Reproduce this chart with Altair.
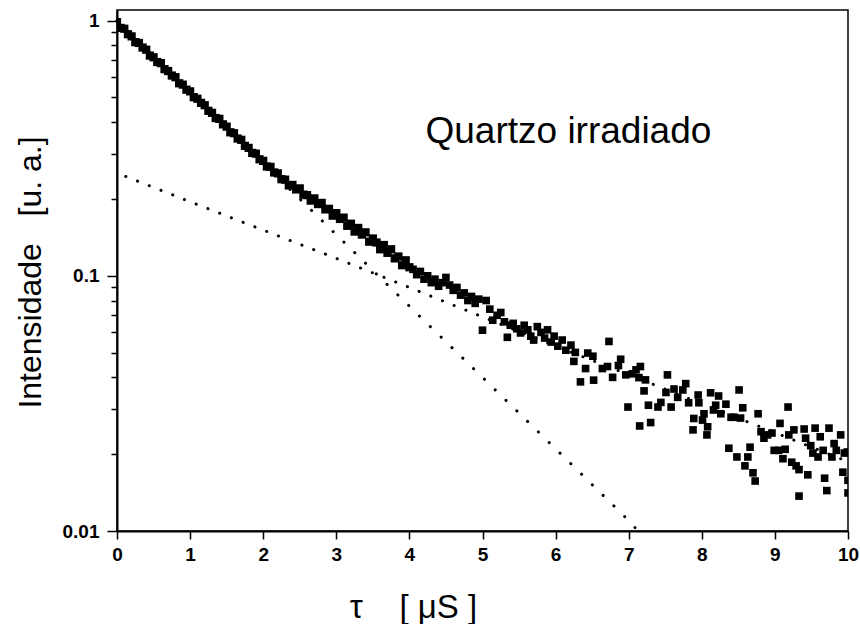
import altair as alt
import pandas as pd

# ---- measured decay (square symbols) ----
t_early = [0.00, 0.05, 0.10, 0.15, 0.20, 0.25, 0.30, 0.35, 0.40, 0.45,
           0.50, 0.55, 0.60, 0.65, 0.70, 0.75, 0.80, 0.85, 0.90, 0.95,
           1.00, 1.05, 1.10, 1.15, 1.20, 1.25, 1.30, 1.35, 1.40, 1.45,
           1.50, 1.55, 1.60, 1.65, 1.70, 1.75, 1.80, 1.85, 1.90, 1.95,
           2.00, 2.05, 2.10, 2.15, 2.20, 2.25, 2.30, 2.35, 2.40, 2.45,
           2.50, 2.55, 2.60, 2.65, 2.70, 2.75, 2.80, 2.85, 2.90, 2.95,
           3.00, 3.05, 3.10, 3.15, 3.20, 3.25, 3.30, 3.35, 3.40, 3.45,
           3.50, 3.55, 3.60, 3.65, 3.70, 3.75, 3.80, 3.85, 3.90, 3.95,
           4.00]
v_early = [0.986, 0.936, 0.929, 0.884, 0.867, 0.823, 0.817, 0.784, 0.769, 0.729,
           0.718, 0.688, 0.681, 0.645, 0.634, 0.609, 0.600, 0.568, 0.561, 0.536,
           0.528, 0.501, 0.494, 0.476, 0.466, 0.443, 0.435, 0.415, 0.412, 0.392,
           0.384, 0.365, 0.362, 0.345, 0.341, 0.323, 0.317, 0.303, 0.301, 0.286,
           0.282, 0.268, 0.267, 0.254, 0.252, 0.239, 0.238, 0.226, 0.227, 0.218,
           0.220, 0.208, 0.207, 0.197, 0.201, 0.191, 0.193, 0.182, 0.183, 0.172,
           0.176, 0.167, 0.169, 0.157, 0.160, 0.149, 0.154, 0.145, 0.148, 0.136,
           0.140, 0.135, 0.127, 0.132, 0.123, 0.127, 0.117, 0.119, 0.110, 0.115,
           0.108]

t_mid = [4.05, 4.10, 4.15, 4.20, 4.25, 4.30, 4.35, 4.40, 4.45, 4.50,
         4.55, 4.60, 4.65, 4.70, 4.75, 4.80, 4.85, 4.90, 4.95, 5.00,
         5.05, 5.10, 5.14, 5.20, 5.25, 5.30, 5.34, 5.38, 5.42, 5.47,
         5.52, 5.57, 5.62, 5.66, 5.70, 5.75, 5.80, 5.85, 5.89, 5.94,
         5.98, 6.03]
v_mid = [0.106, 0.101, 0.104, 0.097, 0.100, 0.094, 0.097, 0.091, 0.094, 0.0985,
         0.092, 0.0877, 0.090, 0.084, 0.0857, 0.080, 0.083, 0.078, 0.081, 0.0612,
         0.080, 0.074, 0.067, 0.070, 0.0718, 0.066, 0.0574, 0.064, 0.0651, 0.062,
         0.0597, 0.064, 0.0614, 0.058, 0.056, 0.0632, 0.060, 0.057, 0.0614, 0.055,
         0.058, 0.053]

t_late = [6.09, 6.21, 6.14, 6.27, 6.25, 6.44, 6.51, 6.73, 6.41, 6.34,
          6.52, 6.64, 6.71, 6.78, 6.86, 6.89, 6.96, 7.05, 7.10, 7.16,
          7.14, 7.23, 7.21, 6.99, 7.15, 7.30, 7.27, 7.40, 7.44, 7.53,
          7.51, 7.58, 7.62, 7.67, 7.74, 7.78, 7.82, 7.95, 7.96, 7.88,
          7.89, 8.01, 8.03, 8.08, 8.07, 8.12, 8.16, 8.19, 8.23, 8.26,
          8.33, 8.40, 8.44, 8.51, 8.56, 8.53, 8.37, 8.48, 8.59, 8.63,
          8.66, 8.70, 8.73, 8.77, 8.81, 8.85, 8.90, 8.96, 8.99, 9.05,
          9.07, 9.11, 9.14, 9.18, 9.19, 9.23, 9.26, 9.29, 9.33, 9.40,
          9.42, 9.45, 9.33, 9.49, 9.52, 9.55, 9.59, 9.62, 9.66, 9.68,
          9.71, 9.74, 9.78, 9.81, 9.84, 9.90, 9.93, 9.95, 10.0, 10.0,
          9.99]
v_late = [0.0560, 0.0535, 0.0511, 0.0501, 0.0462, 0.0498, 0.0484, 0.0553, 0.0433, 0.0384,
          0.0390, 0.0433, 0.0441, 0.0400, 0.0445, 0.0471, 0.0409, 0.0413, 0.0428, 0.0441,
          0.0399, 0.0391, 0.0354, 0.0306, 0.0258, 0.0266, 0.0311, 0.0306, 0.0319, 0.0409,
          0.0349, 0.0306, 0.0360, 0.0334, 0.0357, 0.0378, 0.0318, 0.0341, 0.0318, 0.0249,
          0.0276, 0.0272, 0.0288, 0.0256, 0.0238, 0.0348, 0.0298, 0.0311, 0.0338, 0.0288,
          0.0314, 0.0279, 0.0279, 0.0357, 0.0304, 0.0277, 0.0211, 0.0195, 0.0180, 0.0195,
          0.0213, 0.0169, 0.0157, 0.0288, 0.0245, 0.0231, 0.0238, 0.0242, 0.0207, 0.0207,
          0.0264, 0.0192, 0.0209, 0.0306, 0.0238, 0.0186, 0.0249, 0.0180, 0.0174, 0.0251,
          0.0231, 0.0166, 0.0137, 0.0216, 0.0202, 0.0253, 0.0195, 0.0234, 0.0207, 0.0161,
          0.0144, 0.0253, 0.0195, 0.0220, 0.0207, 0.0238, 0.0170, 0.0202, 0.0141, 0.0158,
          0.0204]

# ---- fitted single exponentials (dotted) ----
t_fast = [0.0, 1.0, 2.0, 3.0, 4.0, 5.0, 6.0, 7.0, 7.1]
v_fast = [1.0, 0.525, 0.276, 0.145, 0.076, 0.040, 0.021, 0.011, 0.0102]
t_slow = [0.12, 1.0, 2.0, 3.0, 4.0, 5.0, 6.0, 7.0, 8.0, 9.0, 10.0]
v_slow = [0.245, 0.195, 0.151, 0.117, 0.090, 0.069, 0.053, 0.041, 0.0315, 0.0243, 0.0187]

# ---- annotation ----
note_text = ["Quartzo irradiado"]
note_t = [4.22]
note_v = [0.365]

y_ticks = [0.01, 0.02, 0.03, 0.04, 0.05, 0.06, 0.07, 0.08, 0.09,
           0.1, 0.2, 0.3, 0.4, 0.5, 0.6, 0.7, 0.8, 0.9, 1]
x_ticks = [0, 0.5, 1, 1.5, 2, 2.5, 3, 3.5, 4, 4.5, 5, 5.5, 6, 6.5, 7, 7.5,
           8, 8.5, 9, 9.5, 10]

FONT = "Liberation Sans"
NB = "\u00a0"

early = pd.DataFrame({"t": t_early, "v": v_early})
rest = pd.DataFrame({"t": t_mid + t_late, "v": v_mid + v_late})
fast = pd.DataFrame({"t": t_fast, "v": v_fast})
slow = pd.DataFrame({"t": t_slow, "v": v_slow})
note = pd.DataFrame({"label": note_text, "t": note_t, "v": note_v})

is_major_y = "indexof([0.01,0.1,1], datum.value) >= 0"

x_enc = alt.X("t:Q",
              scale=alt.Scale(domain=[0, 10], nice=False, zero=False),
              axis=alt.Axis(values=x_ticks, grid=False,
                            title="τ" + NB * 4 + "[" + NB + "μS" + NB + "]",
                            titleFont=FONT, titleFontSize=33, titleFontWeight="normal",
                            titleX=296, titleY=76, titleAlign="center",
                            titleBaseline="middle",
                            labelExpr="datum.value % 1 === 0 ? '' + datum.value : ''",
                            labelFont=FONT, labelFontSize=19, labelFontWeight="bold",
                            labelColor="black",
                            labelPadding=6, labelFlush=False, labelOverlap=False,
                            tickSize={"condition": {"test": "datum.value % 1 === 0", "value": 8}, "value": 5},
                            tickColor="black", tickWidth=1.5,
                            domainColor="black", domainWidth=2))
y_enc = alt.Y("v:Q",
              scale=alt.Scale(type="log", domain=[0.01, 1.1], nice=False),
              axis=alt.Axis(values=y_ticks, grid=False,
                            title="Intensidade" + NB * 3 + "[u." + NB + "a.]",
                            titleFont=FONT, titleFontSize=32, titleFontWeight="normal",
                            titleAngle=270, titleX=-87, titleY=262,
                            titleAlign="center", titleBaseline="middle",
                            labelExpr=is_major_y + " ? '' + datum.value : ''",
                            labelFont=FONT, labelFontSize=19, labelFontWeight="bold",
                            labelColor="black",
                            labelPadding=8, labelFlush=False, labelOverlap=False,
                            tickSize={"condition": {"test": is_major_y, "value": 10}, "value": 6},
                            tickColor="black", tickWidth=1.5,
                            domainColor="black", domainWidth=2))

fast_line = alt.Chart(fast).mark_line(
    color="black", strokeWidth=3, strokeDash=[0.1, 15], strokeCap="round"
).encode(x=x_enc, y=y_enc)

slow_line = alt.Chart(slow).mark_line(
    color="black", strokeWidth=3, strokeDash=[0.1, 12.5], strokeCap="round"
).encode(x="t:Q", y="v:Q")

early_pts = alt.Chart(early).mark_square(
    color="black", filled=True, size=68, opacity=1, clip=True
).encode(x="t:Q", y="v:Q")

rest_pts = alt.Chart(rest).mark_square(
    color="black", filled=True, size=58, opacity=1, clip=True
).encode(x="t:Q", y="v:Q")

label = alt.Chart(note).mark_text(
    font=FONT, fontSize=37, color="black", align="left", baseline="middle"
).encode(x="t:Q", y="v:Q", text="label:N")

chart = alt.layer(fast_line, slow_line, early_pts, rest_pts, label).properties(
    width=731, height=521,
    padding={"left": 117, "top": 10, "right": 12, "bottom": 93},
    autosize=alt.AutoSizeParams(type="none"),
    background="white",
).configure_view(stroke="black", strokeWidth=1.5)

chart.save("out.html", embed_options={"renderer": "svg", "actions": False})
